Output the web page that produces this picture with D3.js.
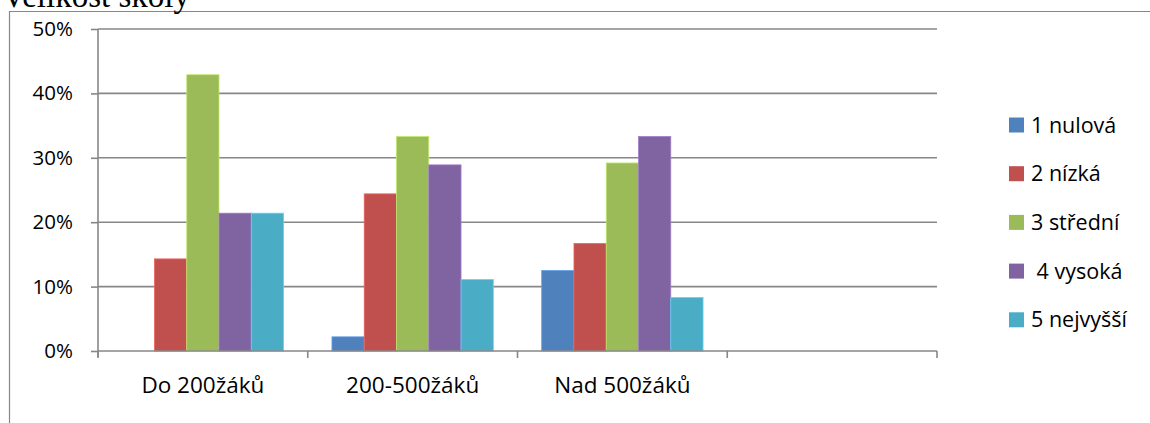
<!DOCTYPE html>
<html>
<head>
<meta charset="utf-8">
<script src="https://cdn.jsdelivr.net/npm/d3@7"></script>
<style>
  html, body { margin: 0; padding: 0; background: #fff; }
  svg { display: block; }
  text { font-family: "Open Sans", sans-serif; fill: #000; }
</style>
</head>
<body>
<svg id="chart" width="1150" height="423"></svg>
<script>
// ---- data ----
const title = "Velikost školy";
const categories = ["Do 200žáků", "200-500žáků", "Nad 500žáků", ""];
const seriesNames = ["1 nulová", "2 nízká", "3 střední", " 4 vysoká", "5 nejvyšší"];
const nulova   = [0.000, 0.022, 0.125, null];
const nizka    = [0.143, 0.244, 0.167, null];
const stredni  = [0.429, 0.333, 0.292, null];
const vysoka   = [0.214, 0.289, 0.333, null];
const nejvyssi = [0.214, 0.111, 0.083, null];
const yTicks = [0, 0.1, 0.2, 0.3, 0.4, 0.5];
const colors = ["#4F81BD", "#C0504D", "#9BBB59", "#8064A2", "#4BACC6"];

const seriesValues = [nulova, nizka, stredni, vysoka, nejvyssi];

// ---- layout ----
const svg = d3.select("#chart");
const plot = { left: 98, right: 937, top: 29, bottom: 351 };
const axisColor = "#878787";

// outer border (chart area)
svg.append("path")
  .attr("d", "M9.5,423 L9.5,11.5 L1150,11.5")
  .attr("fill", "none").attr("stroke", axisColor).attr("stroke-width", 1.2);

// title (partially cut off at top, as in the reference)
svg.append("text")
  .attr("x", 2).attr("y", 7)
  .style("font-family", "'Liberation Serif', 'Times New Roman', serif")
  .style("font-size", "33px")
  .text(title);

const x = d3.scaleBand().domain(categories).range([plot.left, plot.right]).padding(0);
const bw = x.bandwidth();
const barW = bw / 6.5;
const xs = d3.scaleBand().domain(seriesNames).range([barW * 0.75, bw - barW * 0.75]).padding(0);
const y = d3.scaleLinear().domain([0, 0.5]).range([plot.bottom, plot.top]);
const fmt = d3.format(".0%");

// gridlines
svg.append("g").selectAll("line")
  .data(yTicks.filter(t => t > 0))
  .join("line")
  .attr("x1", plot.left).attr("x2", plot.right)
  .attr("y1", d => y(d)).attr("y2", d => y(d))
  .attr("stroke", axisColor).attr("stroke-width", 1.6);

// y axis
const yAxis = d3.axisLeft(y).tickValues(yTicks).tickFormat(fmt).tickSize(7).tickPadding(18);
const gy = svg.append("g").attr("transform", `translate(${plot.left},0)`).call(yAxis);
gy.select(".domain").attr("stroke", axisColor).attr("stroke-width", 1.6)
  .attr("d", `M0,${plot.top}V${plot.bottom + 6}`);
gy.selectAll(".tick line").attr("stroke", axisColor).attr("stroke-width", 1.6);
gy.selectAll(".tick text").style("font-size", "20.5px").style("font-family", "'Open Sans', sans-serif").attr("fill", "#000");

// bars
const bars = svg.append("g");
seriesValues.forEach((vals, si) => {
  const c = d3.color(colors[si]);
  bars.selectAll(null)
    .data(categories.map((cat, i) => ({ cat, v: vals[i] })).filter(d => d.v !== null && d.v > 0))
    .join("rect")
    .attr("x", d => x(d.cat) + xs(seriesNames[si]))
    .attr("width", xs.bandwidth())
    .attr("y", d => y(d.v))
    .attr("height", d => y(0) - y(d.v))
    .attr("fill", colors[si])
    .attr("stroke", c.brighter(0.6).formatHex())
    .attr("stroke-width", 0.8);
});

// x axis
const xAxis = d3.axisBottom(x).tickSize(0).tickPadding(0);
const gx = svg.append("g").attr("transform", `translate(0,${plot.bottom})`).call(xAxis);
gx.select(".domain").attr("stroke", axisColor).attr("stroke-width", 1.6)
  .attr("d", `M${plot.left},0H${plot.right}`);
gx.selectAll(".tick text")
  .attr("y", 42).attr("dy", null)
  .style("font-size", "22.5px").style("font-family", "'Open Sans', sans-serif").attr("fill", "#000");
// category boundary ticks
const bounds = categories.map(c => x(c)).concat([plot.right]);
gx.append("g").selectAll("line").data(bounds).join("line")
  .attr("x1", d => d).attr("x2", d => d).attr("y1", 0).attr("y2", 7)
  .attr("stroke", axisColor).attr("stroke-width", 1.6);

// legend
const leg = svg.append("g");
const legY0 = 125, legStep = 48.7;
seriesNames.forEach((name, i) => {
  const cy = legY0 + i * legStep;
  leg.append("rect").attr("x", 1009).attr("y", cy - 7.5).attr("width", 15).attr("height", 15).attr("fill", colors[i]);
  leg.append("text").attr("x", 1031).attr("y", cy).attr("dy", "0.35em")
    .style("font-size", "21.5px").style("white-space", "pre").text(name);
});
</script>
</body>
</html>
